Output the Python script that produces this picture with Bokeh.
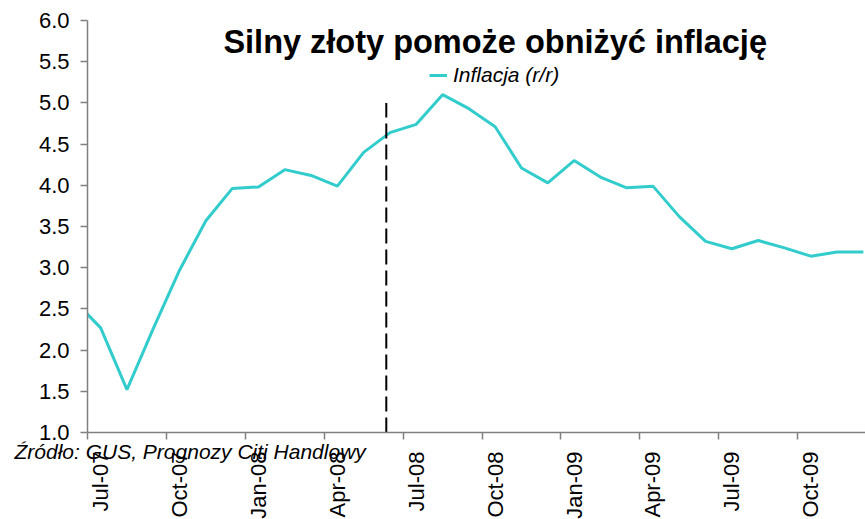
import numpy as np
from bokeh.plotting import figure
from bokeh.models import (FixedTicker, Label, Legend, LegendItem, ColumnDataSource,
                          Range1d)
from bokeh.embed import file_html
from bokeh.resources import INLINE

# ---------------- data ----------------
months = ["Jun-07", "Jul-07", "Aug-07", "Sep-07", "Oct-07", "Nov-07", "Dec-07",
          "Jan-08", "Feb-08", "Mar-08", "Apr-08", "May-08", "Jun-08",
          "Jul-08", "Aug-08", "Sep-08", "Oct-08", "Nov-08", "Dec-08",
          "Jan-09", "Feb-09", "Mar-09", "Apr-09", "May-09", "Jun-09",
          "Jul-09", "Aug-09", "Sep-09", "Oct-09", "Nov-09", "Dec-09"]
inflation = [2.6, 2.27, 1.52, 2.26, 2.97, 3.57, 3.96,
             3.98, 4.19, 4.12, 3.99, 4.40, 4.64,
             4.74, 5.10, 4.93, 4.71, 4.21, 4.03,
             4.30, 4.10, 3.97, 3.99, 3.62, 3.32,
             3.23, 3.33, 3.24, 3.14, 3.19, 3.19]
x_tick_labels = ["Jul-07", "Oct-07", "Jan-08", "Apr-08", "Jul-08", "Oct-08",
                 "Jan-09", "Apr-09", "Jul-09", "Oct-09"]
y_ticks = [1.0, 1.5, 2.0, 2.5, 3.0, 3.5, 4.0, 4.5, 5.0, 5.5, 6.0]
y_tick_labels = ["1.0", "1.5", "2.0", "2.5", "3.0", "3.5", "4.0", "4.5", "5.0", "5.5", "6.0"]
y_axis_min, y_axis_max = 1.0, 6.0
forecast_month = "Jun-08"          # vertical dashed marker (start of forecast)
forecast_top = 5.0
series_name = "Inflacja (r/r)"
title_text = "Silny złoty pomoże obniżyć inflację"
source_text = "Źródło: GUS, Prognozy Citi Handlowy"

# month index: Jul-07 = 0; points drawn at middle of their month
first = months.index("Jul-07")
x_pos = [i - first + 0.5 for i in range(len(months))]
label_months = [months.index(m) - first for m in x_tick_labels]

FONT = "Liberation Sans"
TURQ = "#33CCCC"
AXIS = "#808080"

# the view extends beyond both axes so that texts around them are not cut off
X_START, X_END = -3.308, 29.58
Y_START, Y_END = -0.056, 6.243

src = ColumnDataSource(dict(x=x_pos, y=inflation, month=months))

p = figure(width=865, height=519, output_backend="svg", toolbar_location=None,
           x_range=Range1d(X_START, X_END), y_range=Range1d(Y_START, Y_END),
           min_border_left=0, min_border_right=0, min_border_top=0,
           min_border_bottom=0)
p.outline_line_color = None
p.grid.grid_line_color = None
p.background_fill_color = "white"
p.border_fill_color = "white"

r = p.line("x", "y", source=src, line_color=TURQ, line_width=3)

# the plotting area starts at the value axis: hide what lies left of it
p.quad(left=[X_START], right=[0], bottom=[y_axis_min], top=[y_axis_max],
       fill_color="white", line_color=None)

# dashed marker
fx = months.index(forecast_month) - first + 0.36
p.segment(x0=[fx], y0=[y_axis_min], x1=[fx], y1=[forecast_top], line_color="black",
          line_width=2, line_dash="15 6")

# x axis (fixed at y = 1.0)
xa = p.xaxis[0]
xa.fixed_location = y_axis_min
xa.bounds = (0, X_END)
xa.ticker = FixedTicker(ticks=[m + 0.5 for m in label_months],
                        minor_ticks=label_months)
xa.major_label_overrides = {m + 0.5: lab for m, lab in zip(label_months, x_tick_labels)}
xa.major_tick_line_color = None
xa.major_tick_out = 7
xa.major_tick_in = 0
xa.minor_tick_line_color = AXIS
xa.minor_tick_out = 7
xa.minor_tick_in = 0
xa.minor_tick_line_width = 1.5
xa.axis_line_color = AXIS
xa.axis_line_width = 1.5
xa.major_label_orientation = np.pi / 2
xa.major_label_standoff = 12
xa.major_label_text_font = FONT
xa.major_label_text_font_size = "22px"
xa.major_label_text_color = "black"

# y axis (fixed at Jul-07)
ya = p.yaxis[0]
ya.fixed_location = 0
ya.bounds = (y_axis_min, y_axis_max)
ya.ticker = FixedTicker(ticks=y_ticks)
ya.major_label_overrides = {t: lab for t, lab in zip(y_ticks, y_tick_labels)}
ya.minor_tick_line_color = None
ya.major_tick_line_color = AXIS
ya.major_tick_line_width = 1.5
ya.major_tick_out = 7
ya.major_tick_in = 0
ya.axis_line_color = AXIS
ya.axis_line_width = 1.5
ya.major_label_standoff = 11
ya.major_label_text_font = FONT
ya.major_label_text_font_size = "22px"
ya.major_label_text_color = "black"

# legend
leg = Legend(items=[LegendItem(label=series_name, renderers=[r])],
             location=(429, 432), orientation="horizontal",
             label_text_font=FONT, label_text_font_size="21px",
             label_text_font_style="italic", label_text_color="black",
             glyph_width=18, label_standoff=6,
             padding=0, margin=0, border_line_color=None,
             background_fill_alpha=0)
p.add_layout(leg)

# title (inside plot area)
p.add_layout(Label(x=15.5, y=5.737, text=title_text, text_align="center",
                   text_baseline="alphabetic", text_font=FONT,
                   text_font_size="32.5px", text_font_style="bold",
                   text_color="black"))

# source note (overlapping the category axis, as in the original)
p.add_layout(Label(x=-2.776, y=0.769, text=source_text, text_align="left",
                   text_baseline="alphabetic", text_font=FONT,
                   text_font_size="21px", text_font_style="italic",
                   text_color="black"))

open("out.html", "w").write(file_html(p, INLINE))
